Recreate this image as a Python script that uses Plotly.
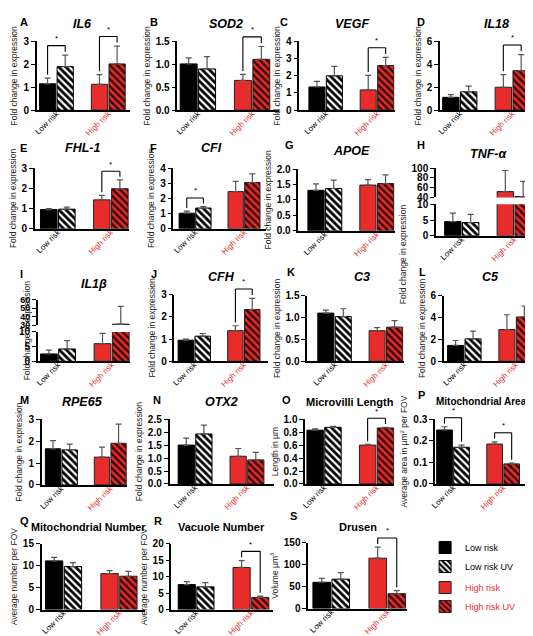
import plotly.graph_objects as go

CANVAS_W, CANVAS_H = 533, 636
FONT = "Liberation Sans, Arial, sans-serif"
RED = "#E82C2C"

# ---------------- data ----------------
panel_letters = list("ABCDEFGHIJKLMNOPQRS")
panel_titles = ["IL6", "SOD2", "VEGF", "IL18", "FHL-1", "CFI", "APOE", "TNF-α", "IL1β",
                "CFH", "C3", "C5", "RPE65", "OTX2", "Microvilli Length",
                "Mitochondrial Area", "Mitochondrial Number", "Vacuole Number", "Drusen"]
y_titles = ["Fold change in expression"] * 14 + [
    "Length in µm", "Average area in µm<sup>2</sup> per FOV",
    "Average number per FOV", "Average number per FOV", "Volume µm<sup>3</sup>"]
categories = ["Low risk", "High risk"]
series_names = ["Low risk", "Low risk UV", "High risk", "High risk UV"]

low_risk = [1.15, 1.01, 1.35, 1.12, 0.95, 1.03, 1.31, 4.5, 2.5, 0.95, 1.10, 1.45, 1.65, 1.50, 0.83, 0.250, 11.1, 7.6, 60]
low_risk_sem = [0.25, 0.13, 0.33, 0.23, 0.05, 0.14, 0.21, 2.7, 1.3, 0.05, 0.07, 0.45, 0.37, 0.27, 0.02, 0.015, 0.8, 0.9, 9]
low_risk_uv = [1.90, 0.90, 2.00, 1.60, 0.97, 1.37, 1.37, 4.2, 4.2, 1.13, 1.02, 2.05, 1.60, 1.93, 0.875, 0.170, 9.8, 6.9, 67]
low_risk_uv_sem = [0.50, 0.27, 0.55, 0.50, 0.10, 0.10, 0.27, 2.6, 2.8, 0.12, 0.18, 0.70, 0.26, 0.34, 0.015, 0.010, 0.9, 1.3, 15]
high_risk = [1.13, 0.65, 1.18, 2.00, 1.43, 2.45, 1.48, 52, 6.0, 1.38, 0.70, 2.90, 1.27, 1.07, 0.60, 0.185, 8.2, 12.8, 115]
high_risk_sem = [0.42, 0.13, 0.84, 1.10, 0.22, 0.67, 0.18, 43, 3.5, 0.22, 0.07, 1.35, 0.46, 0.30, 0.01, 0.010, 0.7, 2.1, 25]
high_risk_uv = [2.02, 1.11, 2.60, 3.45, 1.98, 3.05, 1.53, 42, 31, 2.33, 0.78, 4.05, 1.90, 0.93, 0.865, 0.093, 7.6, 3.7, 34]
high_risk_uv_sem = [0.78, 0.28, 0.47, 1.40, 0.44, 0.57, 0.28, 31, 21, 0.50, 0.15, 1.00, 0.88, 0.29, 0.010, 0.004, 1.1, 0.4, 7]

# axis scales
y_max = [3, 1.5, 4, 6, 3, 4, 2.0, 10, 10, 3, 1.5, 6, 3, 2.5, 1.0, 0.3, 15, 20, 150]
y_dtick = [1, 0.5, 1, 2, 1, 1, 0.5, 5, 5, 1, 0.5, 2, 1, 0.5, 0.2, 0.1, 5, 5, 50]
y_fmt = ["d", ".1f", "d", "d", "d", "d", ".1f", "d", "d", "d", ".1f", "d", "d", ".1f", ".1f", ".1f", "d", "d", "d"]
broken_upper = {7: (40, 100, 20), 8: (30, 60, 10)}  # upper segment of broken axes
# significance brackets: 0 = low-risk pair, 1 = high-risk pair
significant_pairs = [[0, 1], [1], [1], [1], [1], [0], [], [], [], [1], [], [], [], [], [1], [0, 1], [], [1], [1]]

# ---------------- layout geometry (pixels) ----------------
# axis_left, axis_right, top, bottom, first_bar_left, last_bar_right
boxes = [
    (24, 118, 28, 98, 26, 114), (166, 269, 28, 98, 168, 260), (289, 386, 28, 98, 298, 385), (431, 530, 28, 98, 433, 522),
    (22, 117, 157, 219, 27, 117), (162, 255, 157, 219, 167, 250), (288, 386, 158, 221, 297, 385), (427, 526, 157, 226, 435, 524),
    (25, 118, 291, 354, 27, 118), (163, 257, 286, 354, 166, 250), (297, 395, 287, 354, 307, 394), (435, 528, 287, 354, 438, 525),
    (29, 115, 413, 480, 32, 115), (158, 263, 413, 479, 166, 254), (295, 385, 413, 479, 296, 385), (426, 528, 413, 479, 427, 512),
    (29, 133, 540, 607, 32, 126), (160, 262, 540, 607, 166, 259), (298, 398, 539, 606, 302, 397),
]
broken_split = {7: (187, 194), 8: (317, 324)}  # upper-bottom, lower-top pixel rows
letter_pos = [(5, 8), (136, 8), (268, 8), (406, 8), (5, 137), (136, 137), (273, 134), (406, 134),
              (5, 265), (137, 265), (275, 263), (408, 263), (5, 393), (139, 393), (270, 393), (407, 388),
              (5, 517), (140, 517), (278, 512)]
title_pos = [(70, 10), (215, 10), (342, 10), (488, 10), (70, 137), (200, 137), (342, 140), (480, 143),
             (82, 275), (210, 268), (352, 268), (482, 268), (70, 395), (210, 395), (340, 395), (473, 395),
             (76, 523), (210, 523), (348, 523)]
title_size = [12.5] * 14 + [11, 10, 10.8, 11, 11]
broken_title_x = {7: 401, 8: 7}

BARGAP, BARGROUPGAP = 0.32, 0.08


def px_x(v):
    return v / CANVAS_W


def px_y(v):
    return 1 - v / CANVAS_H


series_values = [low_risk, low_risk_uv, high_risk, high_risk_uv]
series_sems = [low_risk_sem, low_risk_uv_sem, high_risk_sem, high_risk_uv_sem]
series_styles = [
    dict(color="black", line=dict(color="black", width=1)),
    dict(color="black", line=dict(color="black", width=1),
         pattern=dict(shape="\\", bgcolor="black", fgcolor="white", size=5, solidity=0.45, fillmode="replace")),
    dict(color=RED, line=dict(color="#222", width=1)),
    dict(color=RED, line=dict(color="#222", width=1),
         pattern=dict(shape="\\", bgcolor=RED, fgcolor="#3a0606", size=5, solidity=0.5, fillmode="replace")),
]
legend_names = ["Low risk", "Low risk UV",
                f"<span style='color:{RED}'>High risk</span>", f"<span style='color:{RED}'>High risk UV</span>"]
ticktext = ["Low risk", f"<span style='color:{RED}'>High risk</span>"]

fig = go.Figure()
layout = {}
annotations = []
shapes = []

axis_common_y = dict(showline=True, linecolor="black", linewidth=1.5, ticks="outside", ticklen=4,
                     tickwidth=1.3, tickcolor="black", showgrid=False, zeroline=False, tick0=0,
                     tickfont=dict(family=FONT, size=10, color="black", weight="bold"))


def add_traces(i, xref, yref, show_legend):
    for s in range(4):
        fig.add_trace(go.Bar(
            x=[categories[s // 2]], y=[series_values[s][i]],
            error_y=dict(type="data", array=[series_sems[s][i]], arrayminus=[0], symmetric=False,
                         color="#555", thickness=1.2, width=3),
            marker=series_styles[s], offsetgroup="uv" if s % 2 else "plain",
            name=legend_names[s], legendgroup="low" if s < 2 else "high",
            showlegend=show_legend, xaxis=xref, yaxis=yref, hoverinfo="skip"))


next_extra_axis = 20
for i in range(19):
    n = i + 1
    xa = "xaxis" if n == 1 else f"xaxis{n}"
    ya = "yaxis" if n == 1 else f"yaxis{n}"
    xr = "x" if n == 1 else f"x{n}"
    yr = "y" if n == 1 else f"y{n}"
    axL, axR, top, bottom, b1, b4 = boxes[i]
    pitch = (b4 - b1) / (2 - BARGAP)
    x_lo = -(1 - BARGAP) / 2 - (b1 - axL) / pitch
    x_hi = 1 + (1 - BARGAP) / 2 + (axR - b4) / pitch

    layout[xa] = dict(domain=[px_x(axL), px_x(axR)], anchor=yr, range=[x_lo, x_hi],
                      type="category", categoryorder="array", categoryarray=categories,
                      tickvals=categories, ticktext=ticktext, tickangle=-45,
                      tickfont=dict(family=FONT, size=8, color="black"), ticklabelstandoff=-6,
                      showline=True, linecolor="black", linewidth=1.5, ticks="", showgrid=False)

    lower_top = broken_split[i][1] if i in broken_split else top
    layout[ya] = dict(axis_common_y, domain=[px_y(bottom), px_y(lower_top)], anchor=xr,
                      range=[0, y_max[i]], dtick=y_dtick[i], tickformat=y_fmt[i])
    if i not in broken_split:
        layout[ya]["title"] = dict(text=y_titles[i], font=dict(family=FONT, size=8.5, color="#222"), standoff=4)

    add_traces(i, xr, yr, i == 0)

    if i in broken_upper:
        lo, hi, dt = broken_upper[i]
        m = next_extra_axis
        next_extra_axis += 1
        upper = dict(axis_common_y, domain=[px_y(broken_split[i][0]), px_y(top)], anchor=xr,
                     range=[lo, hi], dtick=dt, tick0=lo, tickformat="d")
        upper["tickfont"] = dict(family=FONT, size=9 if i == 8 else 10, color="black", weight="bold")
        layout[f"yaxis{m}"] = upper
        add_traces(i, xr, f"y{m}", False)
        annotations.append(dict(text=y_titles[i], x=px_x(broken_title_x[i]), y=px_y((top + bottom) / 2),
                                xref="paper", yref="paper", textangle=-90, showarrow=False,
                                font=dict(family=FONT, size=8.5, color="#222")))

    # letter + title
    lx, ly = letter_pos[i]
    annotations.append(dict(text=f"<b>{panel_letters[i]}</b>", x=px_x(lx), y=px_y(ly), xref="paper", yref="paper",
                            xanchor="left", yanchor="middle", showarrow=False,
                            font=dict(family=FONT, size=11, color="black")))
    tx, ty = title_pos[i]
    ttxt = f"<b><i>{panel_titles[i]}</i></b>" if i < 14 else f"<b>{panel_titles[i]}</b>"
    annotations.append(dict(text=ttxt, x=px_x(tx), y=px_y(ty), xref="paper", yref="paper",
                            xanchor="center", yanchor="middle", showarrow=False,
                            font=dict(family=FONT, size=title_size[i], color="black")))

    # significance brackets
    off = (1 - BARGAP) / 4
    for c in significant_pairs[i]:
        a_top = (series_values[2 * c][i] + series_sems[2 * c][i]) / y_max[i]
        b_top = (series_values[2 * c + 1][i] + series_sems[2 * c + 1][i]) / y_max[i]
        yb = max(a_top, b_top) + 0.14
        xa0, xb0 = c - off, c + off
        ydom = f"{yr} domain"
        line = dict(color="black", width=1.1)
        shapes.append(dict(type="line", xref=xr, yref=ydom, x0=xa0, x1=xa0, y0=a_top + 0.05, y1=yb, line=line))
        shapes.append(dict(type="line", xref=xr, yref=ydom, x0=xa0, x1=xb0, y0=yb, y1=yb, line=line))
        shapes.append(dict(type="line", xref=xr, yref=ydom, x0=xb0, x1=xb0, y0=yb, y1=b_top + 0.05, line=line))
        annotations.append(dict(text="*", x=c, y=yb + 0.01, xref=xr, yref=ydom, showarrow=False,
                                yanchor="bottom", font=dict(family=FONT, size=8, color="black")))

fig.update_layout(
    width=CANVAS_W, height=CANVAS_H, autosize=False,
    margin=dict(l=0, r=0, t=0, b=0),
    paper_bgcolor="white", plot_bgcolor="white",
    barmode="group", bargap=BARGAP, bargroupgap=BARGROUPGAP,
    font=dict(family=FONT, color="black"),
    legend=dict(x=px_x(416), y=px_y(529), xanchor="left", yanchor="top", traceorder="grouped",
                tracegroupgap=2, font=dict(family=FONT, size=9, color="black"),
                bgcolor="rgba(0,0,0,0)", itemwidth=30),
    annotations=annotations, shapes=shapes,
    **layout,
)

fig.write_html("out.html")
